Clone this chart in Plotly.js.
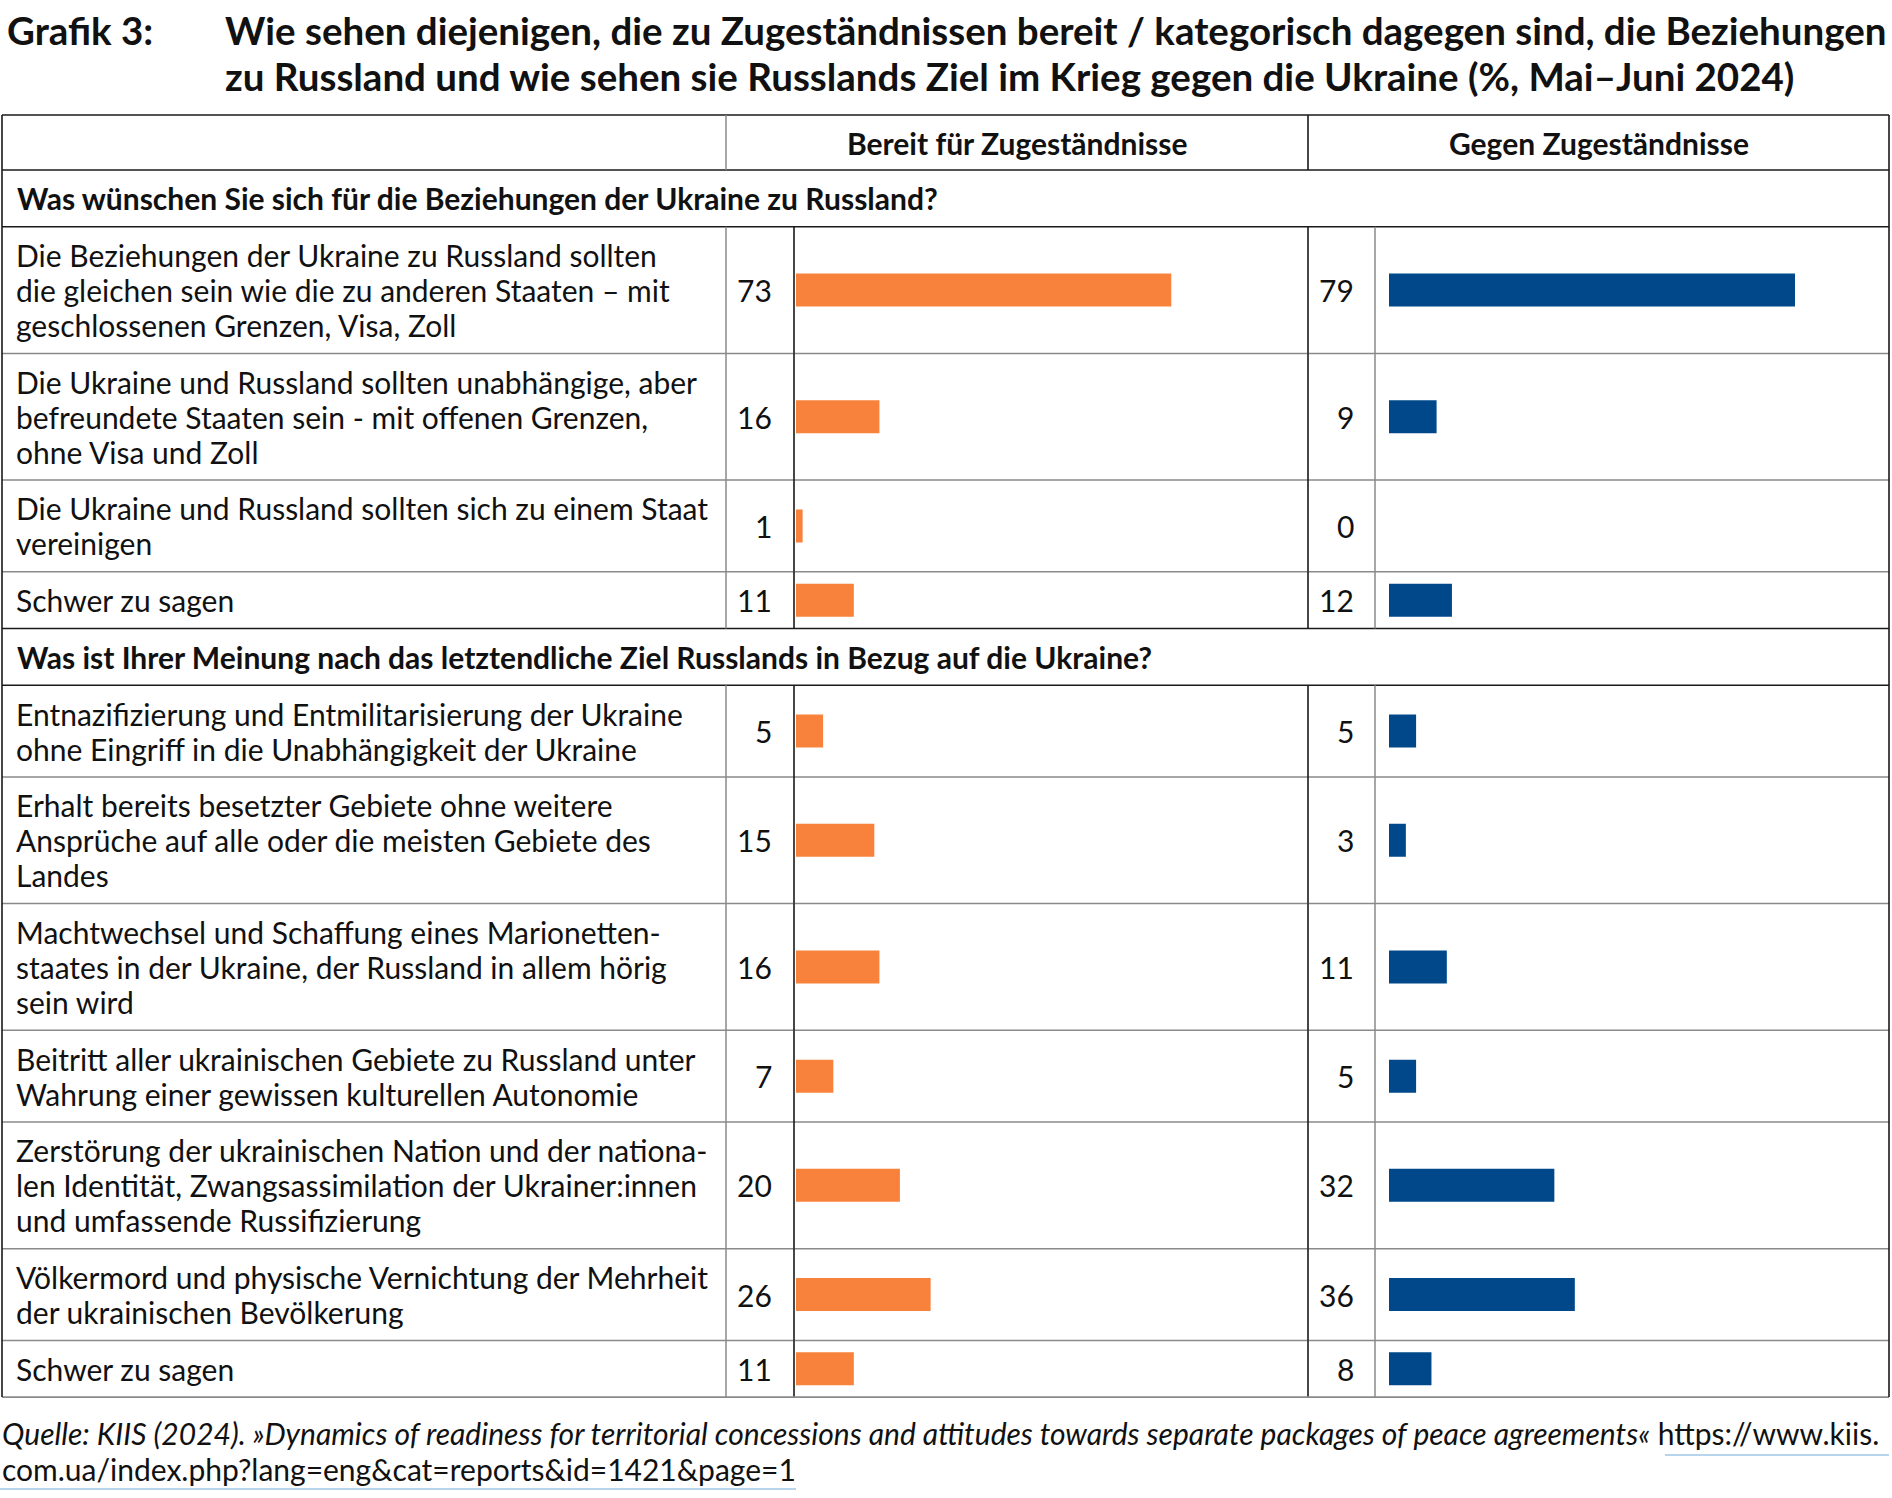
<!DOCTYPE html>
<html><head><meta charset="utf-8">
<script src="https://cdn.plot.ly/plotly-3.0.1.min.js"></script>
<style>html,body{margin:0;padding:0;background:#fff}</style>
</head><body><div id="chart" style="width:1892px;height:1498px"></div>
<script>
// ---------- DATA ----------
const titleLabel = "Grafik 3:";
const titleLines = [
  "Wie sehen diejenigen, die zu Zugeständnissen bereit / kategorisch dagegen sind, die Beziehungen",
  "zu Russland und wie sehen sie Russlands Ziel im Krieg gegen die Ukraine (%, Mai–Juni 2024)"
];
const colHeaders = ["Bereit für Zugeständnisse", "Gegen Zugeständnisse"];

const section1 = "Was wünschen Sie sich für die Beziehungen der Ukraine zu Russland?";
const items1 = [
  "Die Beziehungen der Ukraine zu Russland sollten<br>die gleichen sein wie die zu anderen Staaten – mit<br>geschlossenen Grenzen, Visa, Zoll",
  "Die Ukraine und Russland sollten unabhängige, aber<br>befreundete Staaten sein - mit offenen Grenzen,<br>ohne Visa und Zoll",
  "Die Ukraine und Russland sollten sich zu einem Staat<br>vereinigen",
  "Schwer zu sagen"
];
const bereit1 = [73, 16, 1, 11];
const gegen1  = [79, 9, 0, 12];

const section2 = "Was ist Ihrer Meinung nach das letztendliche Ziel Russlands in Bezug auf die Ukraine?";
const items2 = [
  "Entnazifizierung und Entmilitarisierung der Ukraine<br>ohne Eingriff in die Unabhängigkeit der Ukraine",
  "Erhalt bereits besetzter Gebiete ohne weitere<br>Ansprüche auf alle oder die meisten Gebiete des<br>Landes",
  "Machtwechsel und Schaffung eines Marionetten-<br>staates in der Ukraine, der Russland in allem hörig<br>sein wird",
  "Beitritt aller ukrainischen Gebiete zu Russland unter<br>Wahrung einer gewissen kulturellen Autonomie",
  "Zerstörung der ukrainischen Nation und der nationa-<br>len Identität, Zwangsassimilation der Ukrainer:innen<br>und umfassende Russifizierung",
  "Völkermord und physische Vernichtung der Mehrheit<br>der ukrainischen Bevölkerung",
  "Schwer zu sagen"
];
const bereit2 = [5, 15, 16, 7, 20, 26, 11];
const gegen2  = [5, 3, 11, 5, 32, 36, 8];

const sourceLine1 = "<i>Quelle: KIIS (2024). »Dynamics of readiness for territorial concessions and attitudes towards separate packages of peace agreements«</i> https://www.kiis.";
const sourceLine2 = "com.ua/index.php?lang=eng&cat=reports&id=1421&page=1";

// ---------- GEOMETRY / STYLE ----------
const W = 1892, H = 1498;
const FONT = "Lato, 'Open Sans', sans-serif";
const ORANGE = "#F8813B", BLUE = "#00488A";
const DARK = "#1a1a1a", GRAY = "#8a8a8a";
const tableLeft = 2, tableRight = 1889, tableTop = 115, headerBottom = 170;
const colLabelEnd = 726, colNum1End = 794, colGroup2 = 1308, colNum2End = 1375;
const barStart1 = 796, barStart2 = 1389, pxPerPct = 5.12;
const rowPad = 21.7, lineH = 35;
const textSize = 30;
const titleSize = 38.5;

const rows = [];
rows.push({type: "section", text: section1});
items1.forEach((t, i) => rows.push({type: "item", text: t, b: bereit1[i], g: gegen1[i]}));
rows.push({type: "section", text: section2});
items2.forEach((t, i) => rows.push({type: "item", text: t, b: bereit2[i], g: gegen2[i]}));

let yCur = headerBottom;
rows.forEach(r => {
  r.lines = r.text.split("<br>");
  const n = r.lines.length;
  r.top = yCur;
  r.h = rowPad + lineH * n;
  r.bottom = yCur + r.h;
  r.mid = (r.top + r.bottom) / 2;
  yCur = r.bottom;
});
const tableBottom = yCur;

const px = x => x / W;
const shapes = [];
function hline(y, x0, x1, c, w) {
  shapes.push({type: "line", xref: "paper", yref: "y", x0: px(x0), x1: px(x1), y0: y, y1: y, line: {color: c, width: w}});
}
function vline(x, y0, y1, c, w) {
  shapes.push({type: "line", xref: "paper", yref: "y", x0: px(x), x1: px(x), y0: y0, y1: y1, line: {color: c, width: w}});
}

// outer frame & header
hline(tableTop, tableLeft, tableRight, DARK, 1.6);
hline(headerBottom, tableLeft, tableRight, DARK, 1.6);
vline(colLabelEnd, tableTop, headerBottom, GRAY, 1.5);
vline(colGroup2, tableTop, headerBottom, DARK, 1.6);

rows.forEach((r, i) => {
  const next = rows[i + 1];
  const darkBottom = r.type === "section" || (next && next.type === "section");
  if (i < rows.length - 1) hline(r.bottom, tableLeft, tableRight, darkBottom ? DARK : GRAY, darkBottom ? 1.6 : 1.5);
  if (r.type === "item") {
    vline(colLabelEnd, r.top, r.bottom, GRAY, 1.5);
    vline(colNum1End, r.top, r.bottom, DARK, 1.6);
    vline(colGroup2, r.top, r.bottom, DARK, 1.6);
    vline(colNum2End, r.top, r.bottom, GRAY, 1.5);
  }
});
hline(tableBottom, tableLeft, tableRight, GRAY, 1.6);
vline(tableLeft, tableTop, tableBottom, DARK, 1.6);
vline(tableRight, tableTop, tableBottom, DARK, 1.6);

// source underlines (light blue link underline)
hline(1455, 1665, 1889, "#9fc8e8", 1.3);
hline(1489, 0, 796, "#9fc8e8", 1.3);

// ---------- ANNOTATIONS ----------
const ann = [];
function txt(x, y, text, anchor, size) {
  ann.push({xref: "paper", yref: "y", x: px(x), y: y, xanchor: anchor, yanchor: "middle", text: text,
            showarrow: false, font: {family: FONT, size: size, color: "#111"}});
}
txt(5, 30, "<b>" + titleLabel + "</b>", "left", titleSize);
titleLines.forEach((t, i) => txt(223, 30 + i * 46, "<b>" + t + "</b>", "left", titleSize));
const hdrMid = (tableTop + headerBottom) / 2;
txt((colLabelEnd + colGroup2) / 2, hdrMid, "<b>" + colHeaders[0] + "</b>", "center", textSize);
txt((colGroup2 + tableRight) / 2, hdrMid, "<b>" + colHeaders[1] + "</b>", "center", textSize);

rows.forEach(r => {
  if (r.type === "section") {
    txt(15, r.mid, "<b>" + r.text + "</b>", "left", textSize);
  } else {
    const n = r.lines.length;
    r.lines.forEach((ln, i) => txt(14, r.mid + (i - (n - 1) / 2) * lineH, ln, "left", textSize));
    txt(774, r.mid, String(r.b), "right", textSize);
    txt(1356, r.mid, String(r.g), "right", textSize);
  }
});
txt(0, 1433, sourceLine1, "left", textSize);
txt(0, 1469, sourceLine2, "left", textSize);

// ---------- TRACES ----------
const itemRows = rows.filter(r => r.type === "item");
const edge = v => (v > 0 ? 3 : 0);
const traces = [
  {type: "bar", orientation: "h", x: itemRows.map(r => r.b), y: itemRows.map(r => r.mid), width: 30,
   marker: {color: ORANGE, line: {width: itemRows.map(r => edge(r.b)), color: ORANGE}}, xaxis: "x", yaxis: "y", hoverinfo: "skip", name: colHeaders[0]},
  {type: "bar", orientation: "h", x: itemRows.map(r => r.g), y: itemRows.map(r => r.mid), width: 30,
   marker: {color: BLUE, line: {width: itemRows.map(r => edge(r.g)), color: BLUE}}, xaxis: "x2", yaxis: "y", hoverinfo: "skip", name: colHeaders[1]}
];

const layout = {
  width: W, height: H, margin: {l: 0, r: 0, t: 0, b: 0},
  paper_bgcolor: "#fff", plot_bgcolor: "rgba(0,0,0,0)", showlegend: false,
  xaxis: {domain: [px(barStart1), px(barStart1 + 100 * pxPerPct)], range: [0, 100], visible: false, fixedrange: true},
  xaxis2: {domain: [px(barStart2), 1], range: [0, (W - barStart2) / pxPerPct], visible: false, anchor: "y", fixedrange: true},
  yaxis: {domain: [0, 1], range: [H, 0], visible: false, fixedrange: true},
  shapes: shapes, annotations: ann, bargap: 0
};
Plotly.newPlot("chart", traces, layout, {staticPlot: true});
</script></body></html>
